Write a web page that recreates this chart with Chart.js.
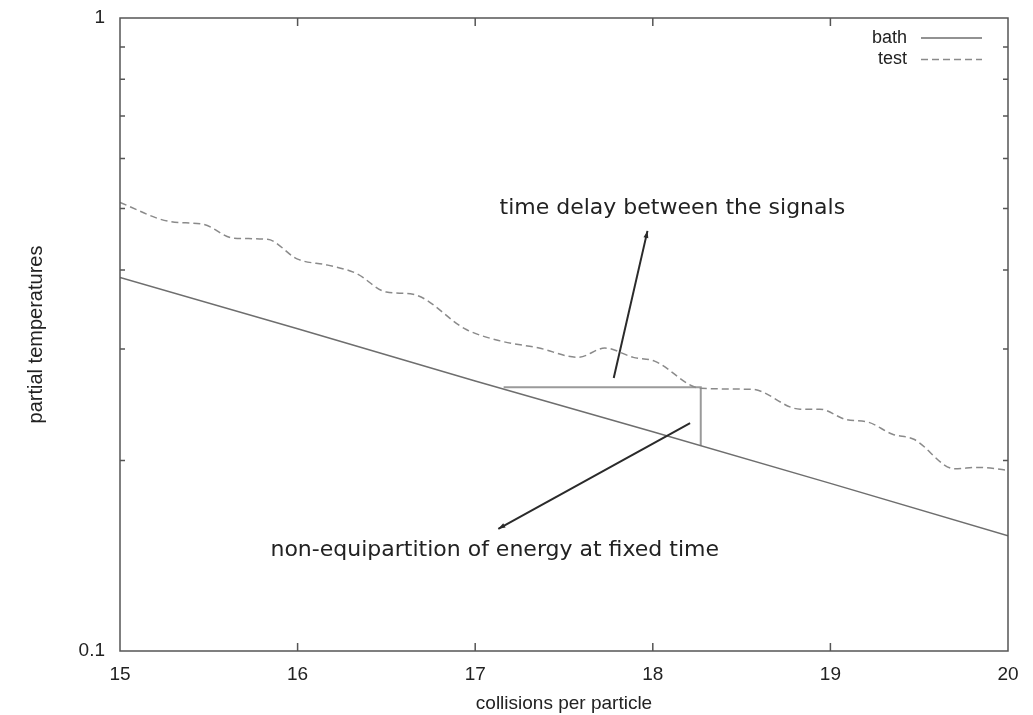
<!DOCTYPE html>
<html>
<head>
<meta charset="utf-8">
<script src="https://cdn.jsdelivr.net/npm/chart.js"></script>
<style>
  body { margin: 0; padding: 0; background: #fff; }
  canvas { display: block; }
</style>
</head>
<body>
<canvas id="tempChart" width="1033" height="715"></canvas>
<script>
// bath temperature (straight line on the log axis)
const bathX = [15, 16, 17, 18, 19, 20];
const bathT = [0.389, 0.323, 0.267, 0.222, 0.184, 0.152];

// test particle temperature
const testX = [15.00, 15.28, 15.47, 15.64, 15.83, 16.00, 16.17, 16.33, 16.50, 16.65,
               16.95, 17.14, 17.36, 17.58, 17.73, 17.89, 18.01, 18.27, 18.56, 18.83,
               18.94, 19.09, 19.21, 19.35, 19.47, 19.70, 19.83, 20.00];
const testT = [0.511, 0.477, 0.472, 0.449, 0.447, 0.416, 0.407, 0.395, 0.369, 0.366,
               0.322, 0.309, 0.301, 0.291, 0.301, 0.291, 0.287, 0.260, 0.259, 0.241,
               0.241, 0.232, 0.230, 0.220, 0.216, 0.194, 0.195, 0.193];

// delay / non-equipartition marker
const delayX = [17.16, 18.27, 18.27];
const delayT = [0.261, 0.261, 0.211];

// ticks
const xTicks = [15, 16, 17, 18, 19, 20];
const yTicks = [0.1, 0.2, 0.3, 0.4, 0.5, 0.6, 0.7, 0.8, 0.9, 1];
const yTickLabels = ['0.1', '', '', '', '', '', '', '', '', '1'];

// annotations (data coords)
const noteText = ['time delay between the signals', 'non-equipartition of energy at fixed time'];
const noteX = [18.11, 17.11];
const noteT = [0.50, 0.144];
const arrowFromX = [17.78, 18.21];
const arrowFromT = [0.270, 0.229];
const arrowToX = [17.97, 17.13];
const arrowToT = [0.461, 0.156];

const pts = (xs, ys) => xs.map((x, i) => ({ x: x, y: ys[i] }));

const frameAndNotes = {
  id: 'frameAndNotes',
  afterDatasetsDraw(chart) {
    const { ctx, chartArea: a, scales } = chart;
    const xs = scales.x, ys = scales.y;
    ctx.save();

    // frame
    ctx.strokeStyle = '#555';
    ctx.lineWidth = 1.5;
    ctx.strokeRect(a.left, a.top, a.right - a.left, a.bottom - a.top);

    // inward ticks
    ctx.beginPath();
    xTicks.slice(1, -1).forEach(v => {
      const px = xs.getPixelForValue(v);
      ctx.moveTo(px, a.bottom); ctx.lineTo(px, a.bottom - 8);
      ctx.moveTo(px, a.top); ctx.lineTo(px, a.top + 8);
    });
    yTicks.slice(1, -1).forEach(v => {
      const py = ys.getPixelForValue(v);
      ctx.moveTo(a.left, py); ctx.lineTo(a.left + 5, py);
      ctx.moveTo(a.right, py); ctx.lineTo(a.right - 5, py);
    });
    ctx.stroke();

    // arrows
    ctx.strokeStyle = '#2a2a2a';
    ctx.fillStyle = '#2a2a2a';
    ctx.lineWidth = 2;
    arrowFromX.forEach((fx, i) => {
      const x0 = xs.getPixelForValue(fx), y0 = ys.getPixelForValue(arrowFromT[i]);
      const x1 = xs.getPixelForValue(arrowToX[i]), y1 = ys.getPixelForValue(arrowToT[i]);
      const ang = Math.atan2(y1 - y0, x1 - x0);
      ctx.beginPath();
      ctx.moveTo(x0, y0); ctx.lineTo(x1, y1);
      ctx.stroke();
      ctx.beginPath();
      ctx.moveTo(x1, y1);
      ctx.lineTo(x1 - 7 * Math.cos(ang) + 2.5 * Math.sin(ang), y1 - 7 * Math.sin(ang) - 2.5 * Math.cos(ang));
      ctx.lineTo(x1 - 7 * Math.cos(ang) - 2.5 * Math.sin(ang), y1 - 7 * Math.sin(ang) + 2.5 * Math.cos(ang));
      ctx.closePath();
      ctx.fill();
    });

    // notes
    ctx.font = '22px "DejaVu Sans"';
    ctx.fillStyle = '#222';
    ctx.textAlign = 'center';
    ctx.textBaseline = 'middle';
    noteText.forEach((t, i) => {
      ctx.fillText(t, xs.getPixelForValue(noteX[i]), ys.getPixelForValue(noteT[i]));
    });

    // legend (top right, text then sample)
    ctx.font = '18px "Liberation Sans"';
    ctx.textAlign = 'right';
    chart.data.datasets.slice(0, 2).forEach((ds, i) => {
      const y = a.top + 20 + i * 21.5;
      ctx.fillStyle = '#222';
      ctx.fillText(ds.label, a.right - 101, y);
      ctx.strokeStyle = ds.borderColor;
      ctx.lineWidth = ds.borderWidth;
      ctx.setLineDash(ds.borderDash || []);
      ctx.beginPath();
      ctx.moveTo(a.right - 87, y); ctx.lineTo(a.right - 26, y);
      ctx.stroke();
      ctx.setLineDash([]);
    });
    ctx.restore();
  }
};

const ctx = document.getElementById('tempChart').getContext('2d');
new Chart(ctx, {
  type: 'line',
  data: {
    datasets: [
      { label: 'bath', data: pts(bathX, bathT), borderColor: '#6e6e6e', borderWidth: 1.5, pointRadius: 0, tension: 0 },
      { label: 'test', data: pts(testX, testT), borderColor: '#8a8a8a', borderWidth: 1.5, borderDash: [7, 4],
        pointRadius: 0, cubicInterpolationMode: 'monotone' },
      { label: 'delay', data: pts(delayX, delayT), borderColor: '#9a9a9a', borderWidth: 2, pointRadius: 0, tension: 0 }
    ]
  },
  options: {
    responsive: false,
    animation: false,
    devicePixelRatio: 1,
    layout: { padding: { top: 18, right: 25, left: 0, bottom: 0 } },
    plugins: { legend: { display: false }, tooltip: { enabled: false } },
    scales: {
      x: {
        type: 'linear', min: 15, max: 20,
        afterBuildTicks: s => { s.ticks = xTicks.map(v => ({ value: v })); },
        afterFit: s => { s.height = 64; s.paddingLeft = 0; s.paddingRight = 0; },
        grid: { display: false, drawTicks: false },
        border: { display: false },
        ticks: { autoSkip: false, maxRotation: 0, padding: 12, color: '#222',
                 font: { family: 'Liberation Sans', size: 19 }, callback: v => String(v) },
        title: { display: true, text: 'collisions per particle', color: '#222',
                 font: { family: 'Liberation Sans', size: 19 }, padding: { top: 2, bottom: 0 } }
      },
      y: {
        type: 'logarithmic', min: 0.1, max: 1,
        afterBuildTicks: s => { s.ticks = yTicks.map(v => ({ value: v })); },
        afterFit: s => { s.width = 120; s.paddingTop = 0; s.paddingBottom = 0; },
        grid: { display: false, drawTicks: false },
        border: { display: false },
        ticks: { autoSkip: false, padding: 15, color: '#222',
                 font: { family: 'Liberation Sans', size: 19 },
                 callback: v => {
                   const i = yTicks.findIndex(t => Math.abs(t - v) < 1e-9);
                   return i >= 0 ? yTickLabels[i] : '';
                 } },
        title: { display: true, text: 'partial temperatures', color: '#222',
                 font: { family: 'Liberation Sans', size: 20 }, padding: { top: 24, bottom: 0 } }
      }
    }
  },
  plugins: [frameAndNotes]
});
</script>
</body>
</html>
